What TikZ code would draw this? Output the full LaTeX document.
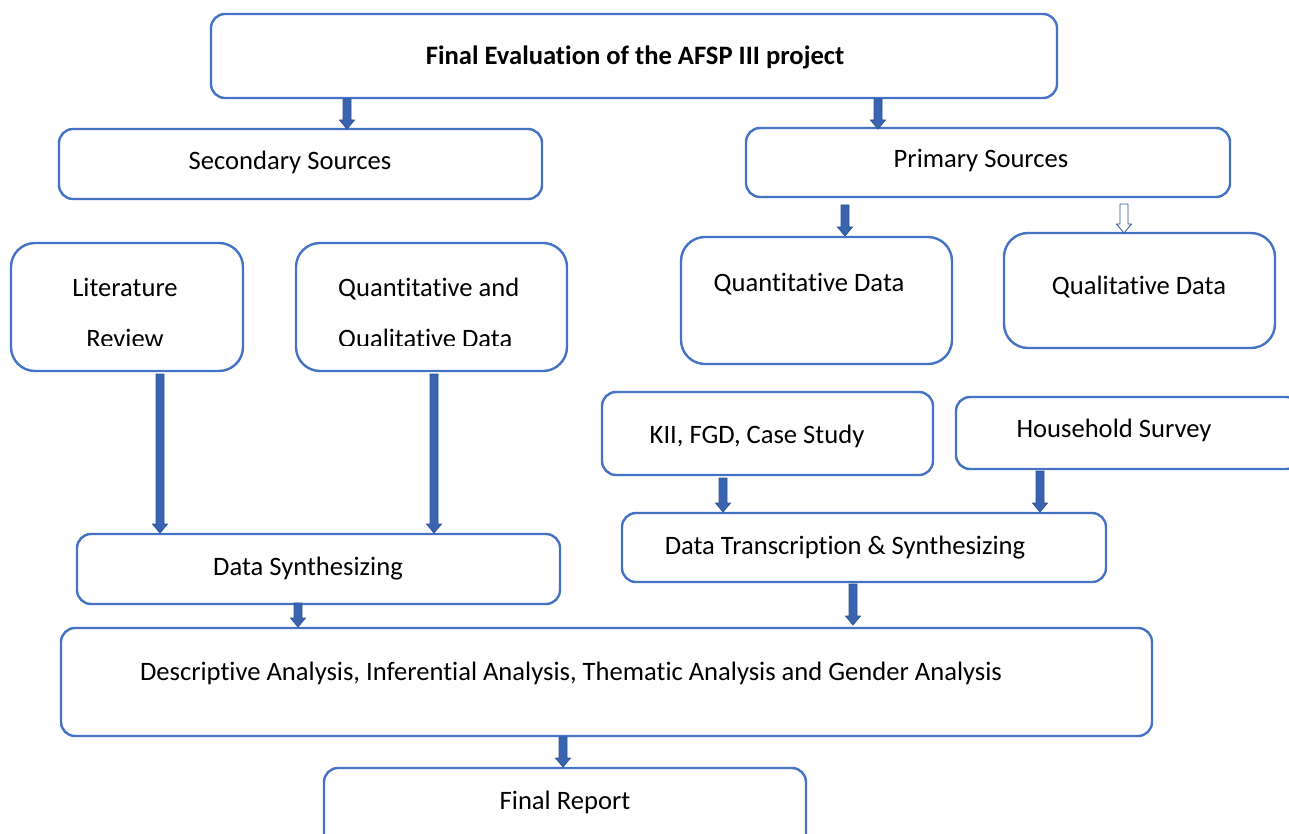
\documentclass[tikz,border=0pt]{standalone}
\usepackage{fontspec}
\setmainfont[Ligatures={NoCommon}]{Carlito}
\usetikzlibrary{calc}
\definecolor{boxline}{HTML}{4472C4}
\definecolor{arrfill}{HTML}{3A63B0}
\definecolor{arrline}{HTML}{2F5597}
\begin{document}
\begin{tikzpicture}[x=1pt,y=-1pt,
  box/.style={draw=boxline,line width=2.4pt,rounded corners=14pt,inner sep=0pt},
  bigbox/.style={box,rounded corners=24pt},
  lbl/.style={font=\fontsize{26.6}{30}\selectfont,inner sep=0pt,anchor=base},
  blk/.style={fill=arrfill,draw=arrline,line width=0.8pt,
    to path={let \p1=(\tikztostart),\p2=(\tikztotarget) in
      (\x1-4pt,\y1) -- (\x1+4pt,\y1) -- (\x1+4pt,\y2+9pt) -- (\x1+7.5pt,\y2+9pt)
      -- (\x1,\y2) -- (\x1-7.5pt,\y2+9pt) -- (\x1-4pt,\y2+9pt) -- cycle}},
  hollow/.style={blk,fill=white}]
\useasboundingbox (0,0) rectangle (1289,834);

% boxes and their labels
\draw[box] (211,14) rectangle (1057,98);
\node[lbl,font=\fontsize{26.6}{30}\selectfont\bfseries] (ttop) at (635,65) {Final Evaluation of the AFSP III project};

\draw[box] (59,129) rectangle (542,199);
\node[lbl] (tsec) at (290,170) {Secondary Sources};
\draw[box] (746,128) rectangle (1230,197);
\node[lbl] (tpri) at (981,168) {Primary Sources};

\draw[bigbox] (11,243) rectangle (243,371);
\draw[bigbox] (296,243) rectangle (567,371);
\begin{scope}
  \clip (11,243) rectangle (567,345);
  \node[lbl] (tlit1) at (125,296.5) {Literature};
  \node[lbl] (tlit2) at (125,347.5) {Review};
  \node[lbl,anchor=base west] (tqq1) at (338,296.5) {Quantitative and};
  \node[lbl,anchor=base west] (tqq2) at (338,347.5) {Qualitative Data};
\end{scope}

\draw[bigbox] (681,237) rectangle (952,364);
\node[lbl] (tqn) at (809,291) {Quantitative Data};
\draw[bigbox] (1004,233) rectangle (1275,348);
\node[lbl] (tql) at (1139,294) {Qualitative Data};

\draw[box] (602,392) rectangle (933,475);
\node[lbl] (tkii) at (757,443) {KII, FGD, Case Study};
\draw[box] (956,397) rectangle (1300,469);
\node[lbl] (ths) at (1114,437) {Household Survey};

\draw[box] (77,534) rectangle (560,604);
\node[lbl] (tds) at (308,575) {Data Synthesizing};
\draw[box] (622,513) rectangle (1106,582);
\node[lbl] (tdts) at (845,554) {Data Transcription \& Synthesizing};

\draw[box] (61,628) rectangle (1152,736);
\node[lbl] (tana) at (571,680) {Descriptive Analysis, Inferential Analysis, Thematic Analysis and Gender Analysis};

\draw[box] (324,768) rectangle (806,850);
\node[lbl] (tfin) at (565,809) {Final Report};

% end points of the connectors
\coordinate (a1) at (347,99);  \coordinate (b1) at (347,129);
\coordinate (a2) at (878,99);  \coordinate (b2) at (878,129);
\coordinate (a3) at (845,205); \coordinate (b3) at (845,236);
\coordinate (a4) at (1124,204);\coordinate (b4) at (1124,233);
\coordinate (a5) at (160,374); \coordinate (b5) at (160,533);
\coordinate (a6) at (434,374); \coordinate (b6) at (434,533);
\coordinate (a7) at (723,478); \coordinate (b7) at (723,512);
\coordinate (a8) at (1040,471);\coordinate (b8) at (1040,512);
\coordinate (a9) at (298,603); \coordinate (b9) at (298,627);
\coordinate (a10) at (853,584);\coordinate (b10) at (853,625);
\coordinate (a11) at (563,737);\coordinate (b11) at (563,767);

\foreach \i in {1,2,3,5,6,7,8,9,10,11}
  \draw[blk] (a\i) to (b\i);
\draw[hollow] (a4) to (b4);
\end{tikzpicture}
\end{document}
